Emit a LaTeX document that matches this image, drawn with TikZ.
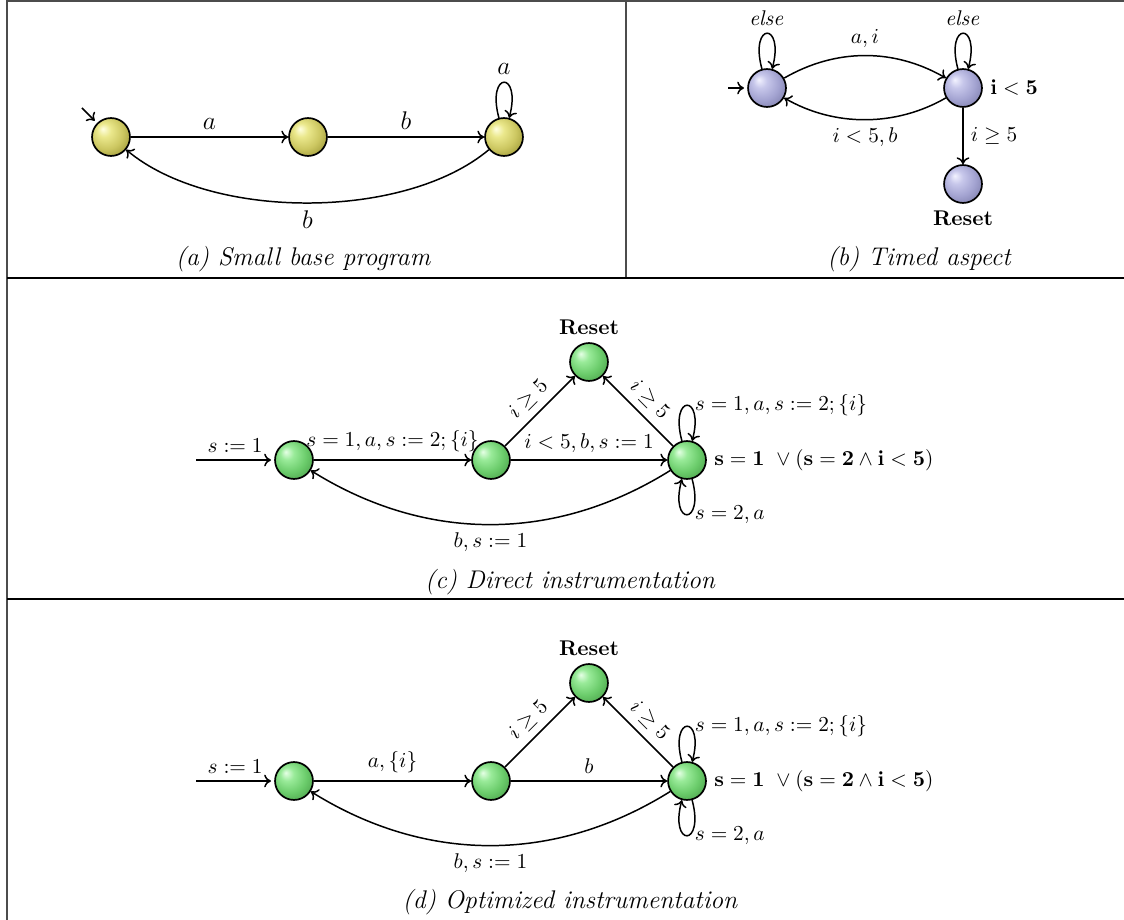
\documentclass[tikz,border=0pt]{standalone}
\usetikzlibrary{shapes.geometric,calc,arrows.meta}
\pgfdeclareradialshading{yball}{\pgfpoint{-11bp}{11bp}}{rgb(0bp)=(1,1,0.88); rgb(9bp)=(0.92,0.91,0.55); rgb(22bp)=(0.8,0.78,0.38); rgb(34bp)=(0.62,0.6,0.22); rgb(48bp)=(0.38,0.36,0.1); rgb(50bp)=(0.3,0.3,0.08)}
\pgfdeclareradialshading{bball}{\pgfpoint{-11bp}{11bp}}{rgb(0bp)=(0.95,0.95,1); rgb(9bp)=(0.78,0.78,0.92); rgb(22bp)=(0.64,0.64,0.82); rgb(34bp)=(0.5,0.5,0.68); rgb(48bp)=(0.32,0.32,0.45); rgb(50bp)=(0.25,0.25,0.38)}
\pgfdeclareradialshading{gball}{\pgfpoint{-11bp}{11bp}}{rgb(0bp)=(0.9,1,0.9); rgb(9bp)=(0.6,0.92,0.6); rgb(22bp)=(0.42,0.8,0.42); rgb(34bp)=(0.3,0.64,0.3); rgb(48bp)=(0.16,0.4,0.16); rgb(50bp)=(0.12,0.32,0.12)}
\begin{document}
\begin{tikzpicture}[x=0.4695pt,y=-0.4695pt,
  >={To[length=3.2pt,width=6pt]},
  st/.style={circle,draw=black,line width=0.8pt,minimum size=17.8pt,inner sep=0pt},
  ystate/.style={st,shading=yball},
  bstate/.style={st,shading=bball},
  gstate/.style={st,shading=gball},
  tr/.style={->,line width=0.7pt},
  lp/.style={min distance=23pt},
  biglbl/.style={font=\large},
  capt/.style={font=\large\itshape},
  grayrule/.style={draw=gray!60!black,line width=0.9pt},
  blackrule/.style={draw=black,line width=0.9pt}
]
\fill[white] (0,0) rectangle (1124,920);
\useasboundingbox (0,0) rectangle (1124,920);

% table rules
\draw[grayrule] (7,920) -- (7,1) -- (1124,1);
\draw[grayrule] (626,1) -- (626,278);
\draw[blackrule] (7,278) -- (1124,278);
\draw[blackrule] (7,599) -- (1124,599);

% ---------- (a)
\node[ystate] (a1) at (111,137) {};
\node[ystate] (a2) at (308,137) {};
\node[ystate] (a3) at (504,137) {};
\coordinate (a0) at (82,108);
\draw[tr,shorten >=1.5pt] (a0) -- (a1);
\draw[tr] (a1) -- node[above,biglbl] {$a$} (a2);
\draw[tr] (a2) -- node[above,biglbl] {$b$} (a3);
\draw[tr] (a3) to[loop above,lp] node[above,biglbl] {$a$} (a3);
\draw[tr] (a3) to[out=-140,in=-40,looseness=0.78] node[below,biglbl] {$b$} (a1);
\node[capt] (capa) at (303,259) {(a) Small base program};

% ---------- (b)
\node[bstate] (b1) at (767,88) {};
\node[bstate,label=right:{$\mathbf{i<5}$}] (b2) at (963,88) {};
\node[bstate,label=below:{\textbf{Reset}}] (b3) at (963,184) {};
\coordinate (b0) at (728,88);
\draw[tr,shorten >=1.5pt] (b0) -- (b1);
\draw[tr] (b1) to[loop above,lp] node[above] {$\mathit{else}$} (b1);
\draw[tr] (b2) to[loop above,lp] node[above] {$\mathit{else}$} (b2);
\draw[tr] (b1) to[bend left=30,looseness=0.95] node[above] {$a, i$} (b2);
\draw[tr] (b2) to[bend left=30,looseness=0.92] node[below] {$i<5, b$} (b1);
\draw[tr] (b2) -- node[right] {$i\geq 5$} (b3);
\node[capt] (capb) at (919,259) {(b) Timed aspect};

% ---------- (c)
\node[gstate] (c1) at (294,460) {};
\node[gstate] (c2) at (491,460) {};
\node[gstate,label=above:{\textbf{Reset}}] (cr) at (589,362) {};
\node[gstate,label=right:{$\mathbf{s=1}\ \vee(\mathbf{s=2}\wedge\mathbf{i}<\mathbf{5})$}] (c3) at (687,460) {};
\coordinate (c0) at (196,460);
\draw[tr,shorten >=1.5pt] (c0) -- node[above] {$s:=1$} (c1);
\draw[tr] (c1) -- node[above] {$s=1, a, s:=2; \{i\}$} (c2);
\draw[tr] (c2) -- node[above] {$i<5, b, s:=1$} (c3);
\draw[tr] (c2) -- node[above,sloped] {$i\geq 5$} (cr);
\draw[tr] (c3) -- node[above,sloped] {$i\geq 5$} (cr);
\draw[tr] (c3) to[bend left=32,looseness=0.97] node[below] {$b, s:=1$} (c1);
\draw[tr] (c3) to[loop above,lp] node[right] {$s=1, a, s:=2; \{i\}$} (c3);
\draw[tr] (c3) to[loop below,lp] node[right] {$s=2, a$} (c3);
\node[capt] (capc) at (570,582) {(c) Direct instrumentation};

% ---------- (d)
\node[gstate] (d1) at (294,781) {};
\node[gstate] (d2) at (491,781) {};
\node[gstate,label=above:{\textbf{Reset}}] (dr) at (589,683) {};
\node[gstate,label=right:{$\mathbf{s=1}\ \vee(\mathbf{s=2}\wedge\mathbf{i}<\mathbf{5})$}] (d3) at (687,781) {};
\coordinate (d0) at (196,781);
\draw[tr,shorten >=1.5pt] (d0) -- node[above] {$s:=1$} (d1);
\draw[tr] (d1) -- node[above] {$a, \{i\}$} (d2);
\draw[tr] (d2) -- node[above] {$b$} (d3);
\draw[tr] (d2) -- node[above,sloped] {$i\geq 5$} (dr);
\draw[tr] (d3) -- node[above,sloped] {$i\geq 5$} (dr);
\draw[tr] (d3) to[bend left=32,looseness=0.97] node[below] {$b, s:=1$} (d1);
\draw[tr] (d3) to[loop above,lp] node[right] {$s=1, a, s:=2; \{i\}$} (d3);
\draw[tr] (d3) to[loop below,lp] node[right] {$s=2, a$} (d3);
\node[capt] (capd) at (570,902) {(d) Optimized instrumentation};
\end{tikzpicture}
\end{document}
